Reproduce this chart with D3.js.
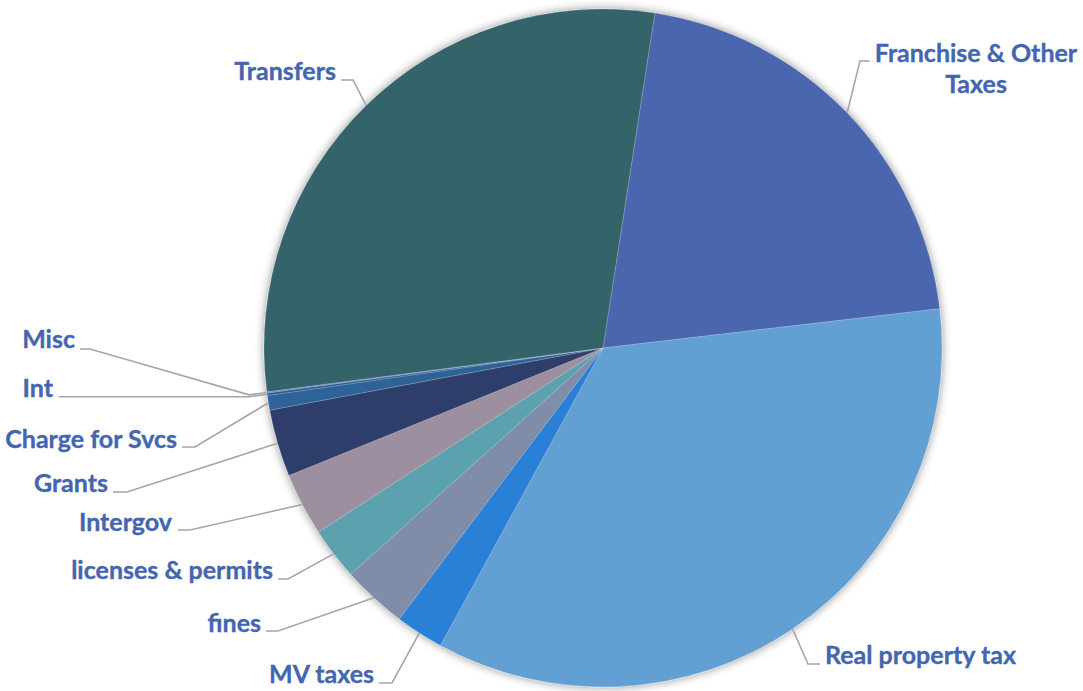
<!DOCTYPE html>
<html>
<head>
<meta charset="utf-8">
<script src="https://cdn.jsdelivr.net/npm/d3@7"></script>
<style>
  html, body { margin: 0; padding: 0; background: #ffffff; }
  svg { display: block; }
  .lbl { font-family: Lato, "Open Sans", sans-serif; font-weight: 700; font-size: 25px; fill: #4466AE; stroke: #4466AE; stroke-width: 0.35px; }
</style>
</head>
<body>
<svg id="chart" width="1083" height="691"></svg>
<script>
// Revenue sources (share of total, %), in drawing order clockwise
const categories = [
  "Franchise & Other Taxes", "Real property tax", "MV taxes", "fines",
  "licenses & permits", "Intergov", "Grants", "Charge for Svcs",
  "Int", "Misc", "Transfers"
];
const shares = [20.7, 34.8, 2.3, 3.1, 2.5, 3.0, 3.2, 0.7, 0.11, 0.06, 29.5];
const sliceColors = [
  "#4A66AE", "#62A0D3", "#2B7FD6", "#7F8DA8", "#5BA2AE", "#9C8FA0",
  "#2E3E6A", "#2D6497", "#28549A", "#5D7FB8", "#34646A"
];

// Label placement: text anchor point, leader elbow, extra radial reach
const labelLayout = [
  { x: 976, y: 62,  anchor: "middle", elbow: [860, 61],  reach: 0 },
  { x: 825, y: 664, anchor: "start",  elbow: [808, 664], reach: 0 },
  { x: 374, y: 683, anchor: "end",    elbow: [392, 683], reach: 0 },
  { x: 261, y: 632, anchor: "end",    elbow: [278, 631], reach: 0 },
  { x: 273, y: 579, anchor: "end",    elbow: [288, 579], reach: 0 },
  { x: 172, y: 531, anchor: "end",    elbow: [190, 530], reach: 0 },
  { x: 108, y: 492, anchor: "end",    elbow: [127, 492], reach: 0 },
  { x: 177, y: 448, anchor: "end",    elbow: [195, 447], reach: 0 },
  { x: 53,  y: 397, anchor: "end",    elbow: null,       reach: 18 },
  { x: 75,  y: 348, anchor: "end",    elbow: [90, 349],  reach: 18 },
  { x: 336, y: 80,  anchor: "end",    elbow: [353, 80],  reach: 0 }
];

const W = 1083, H = 691;
const cx = 603, cy = 348, R = 339;
const startDeg = 8.8;

const svg = d3.select("#chart");

const defs = svg.append("defs");
const shadow = defs.append("filter").attr("id", "pieShadow")
  .attr("x", "-20%").attr("y", "-20%").attr("width", "140%").attr("height", "140%");
shadow.append("feDropShadow")
  .attr("dx", 0).attr("dy", 0).attr("stdDeviation", 5)
  .attr("flood-color", "#000").attr("flood-opacity", 0.45);

const data = categories.map((c, i) => ({ name: c, value: shares[i], color: sliceColors[i], layout: labelLayout[i] }));

const pie = d3.pie().sort(null).value(d => d.value)
  .startAngle(startDeg * Math.PI / 180)
  .endAngle(startDeg * Math.PI / 180 + 2 * Math.PI);
const arcs = pie(data);

const arc = d3.arc().innerRadius(0).outerRadius(R);

const g = svg.append("g").attr("transform", `translate(${cx},${cy})`);
const pieG = g.append("g").attr("filter", "url(#pieShadow)");
pieG.selectAll("path.slice").data(arcs).join("path")
  .attr("class", "slice")
  .attr("d", arc)
  .attr("fill", d => d.data.color)
  .attr("stroke", "rgba(255,255,255,0.35)")
  .attr("stroke-width", 0.5);

// point on a circle of radius r at the slice's middle angle (absolute coords)
function rim(d, r) {
  const a = (d.startAngle + d.endAngle) / 2;
  return [cx + r * Math.sin(a), cy - r * Math.cos(a)];
}

const labelsG = svg.append("g");
const leadersG = svg.append("g");

arcs.forEach(d => {
  const L = d.data.layout;
  const text = labelsG.append("text")
    .attr("class", "lbl")
    .attr("text-anchor", L.anchor);
  let lines = [d.data.name];
  if (d.data.name === "Franchise & Other Taxes") lines = ["Franchise & Other", "Taxes"];
  lines.forEach((ln, k) => {
    text.append("tspan").attr("x", L.x).attr("y", L.y + k * 31).text(ln);
  });
  const bb = text.node().getBBox();

  // leader line: pie rim -> (optional reach) -> elbow -> beside the text
  const pts = [rim(d, R)];
  if (L.reach) pts.push(rim(d, R + L.reach));
  const lineY = L.elbow ? L.elbow[1] : pts[pts.length - 1][1];
  if (L.elbow) pts.push(L.elbow);
  const textSide = (L.anchor === "end") ? bb.x + bb.width + 5 : bb.x - 5;
  pts.push([textSide, lineY]);
  leadersG.append("path")
    .attr("d", d3.line()(pts))
    .attr("fill", "none")
    .attr("stroke", "#A6A6A6")
    .attr("stroke-width", 1.6);
});
</script>
</body>
</html>
